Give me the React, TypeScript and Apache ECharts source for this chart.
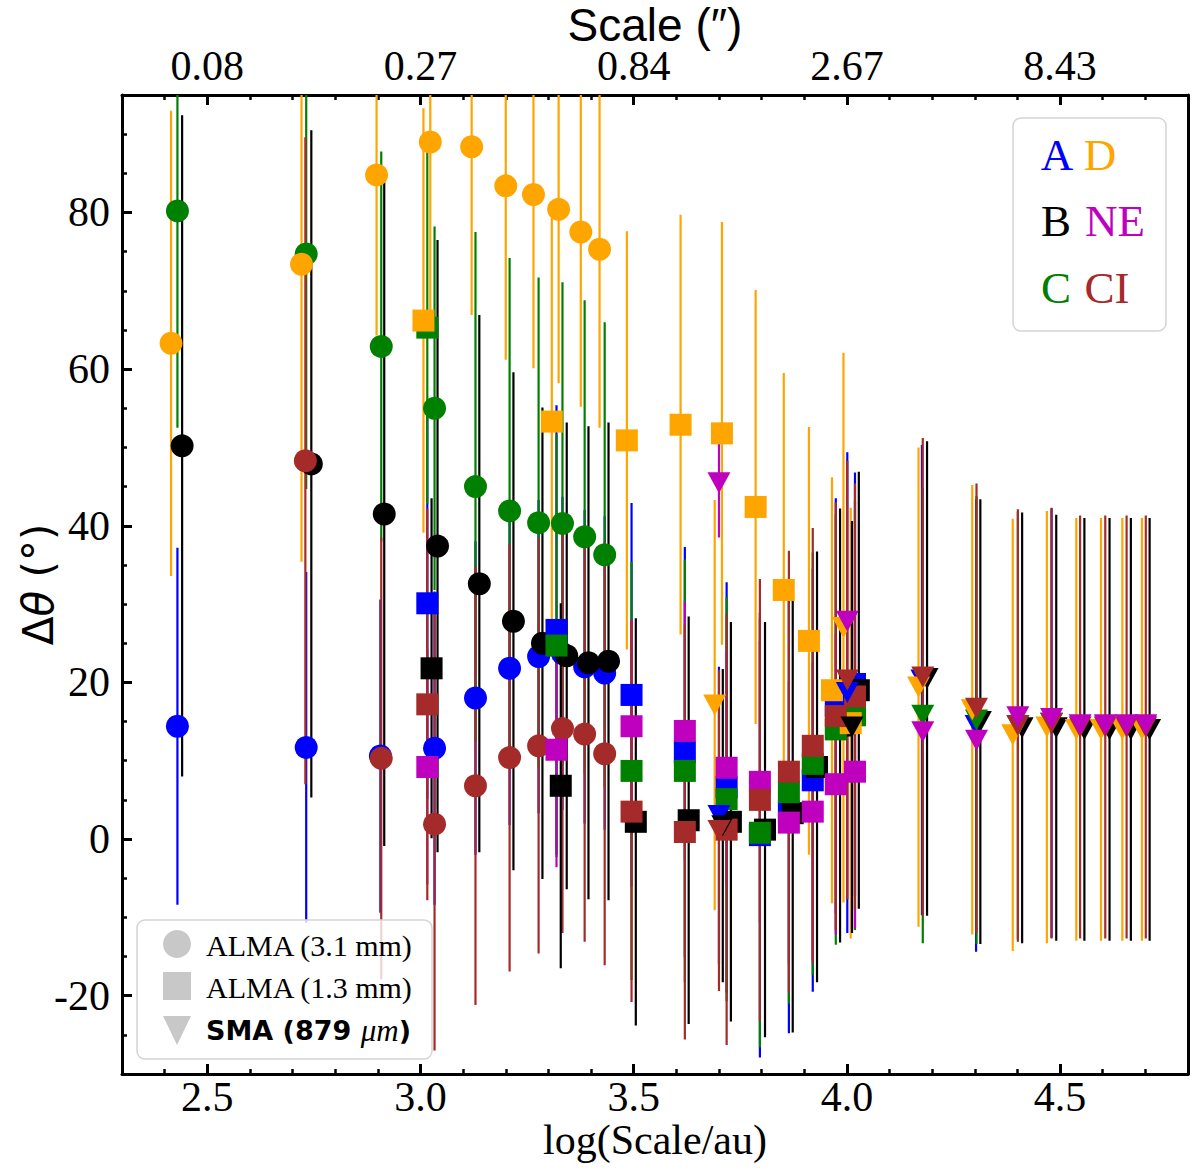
import React, { useEffect, useRef } from "react";
import * as echarts from "echarts";

type Pt = [number, number, number]; // [log(Scale/au), Δθ, error]

// ---- tick labels ----
const X_TICK_VALUES = [2.5, 3.0, 3.5, 4.0, 4.5];
const BOTTOM_TICK_LABELS = ["2.5", "3.0", "3.5", "4.0", "4.5"];
const TOP_TICK_LABELS = ["0.08", "0.27", "0.84", "2.67", "8.43"];
const Y_TICK_VALUES = [-20, 0, 20, 40, 60, 80];
const Y_TICK_LABELS = ["-20", "0", "20", "40", "60", "80"];

// ---- ALMA (3.1 mm) : circles ----
const A_circ: Pt[] = [
  [2.43, 14.4, 22.8], [2.732, 11.7, 22.4], [2.906, 10.6, 20], [3.033, 11.6, 20],
  [3.129, 18.0, 20], [3.209, 21.8, 20], [3.277, 23.3, 20], [3.333, 23.7, 20],
  [3.385, 22.0, 20], [3.432, 21.2, 20],
];
const B_circ: Pt[] = [
  [2.441, 50.2, 42.2], [2.744, 47.9, 42.6], [2.915, 41.5, 42.4], [3.04, 37.4, 39.1],
  [3.138, 32.6, 34.3], [3.218, 27.8, 31.8], [3.286, 25.0, 30.1], [3.343, 23.4, 29.8],
  [3.394, 22.5, 30.2], [3.441, 22.7, 30.5],
];
const C_circ: Pt[] = [
  [2.43, 80.2, 27.7], [2.732, 74.7, 30], [2.908, 62.9, 24.9], [3.033, 55.0, 23.2],
  [3.129, 45.0, 32.5], [3.209, 41.9, 32.3], [3.277, 40.4, 31.3], [3.333, 40.3, 30.8],
  [3.385, 38.6, 30.2], [3.432, 36.3, 29.7],
];
const D_circ: Pt[] = [
  [2.415, 63.3, 29.7], [2.721, 73.4, 38], [2.897, 84.8, 20.5], [3.023, 89.0, 21.7],
  [3.12, 88.4, 21.5], [3.2, 83.4, 22.2], [3.265, 82.3, 22.2], [3.324, 80.4, 22.2],
  [3.376, 77.5, 22.3], [3.42, 75.3, 22.8],
];
const CI_circ: Pt[] = [
  [2.73, 48.3, 41.3], [2.908, 10.3, 28.2], [3.033, 1.9, 28.9], [3.129, 6.8, 28.0],
  [3.209, 10.4, 27.3], [3.277, 11.9, 26.5], [3.333, 14.1, 26.1], [3.385, 13.4, 26.5],
  [3.432, 10.9, 27.0],
];

// ---- ALMA (1.3 mm) : squares ----
const A_sq: Pt[] = [
  [3.016, 30.1, 25], [3.319, 26.7, 28.7], [3.495, 18.4, 24.5], [3.62, 11.1, 26.2],
  [3.718, 6.6, 26.2], [3.796, 0.5, 28.4], [3.864, 3.5, 28.3], [3.92, 7.5, 27],
  [3.974, 17.0, 26.5], [4.019, 19.8, 27],
];
const B_sq: Pt[] = [
  [3.026, 21.8, 21.7], [3.329, 6.8, 23.3], [3.505, 2.2, 26], [3.629, 2.4, 26],
  [3.728, 2.2, 25.5], [3.808, 1.2, 26.5], [3.873, 3.3, 28], [3.93, 9.2, 27.5],
  [3.984, 14.5, 27.7], [4.028, 19.0, 27.9],
];
const C_sq: Pt[] = [
  [3.016, 65.3, 22.5], [3.319, 24.7, 27], [3.495, 8.7, 26.7], [3.62, 8.7, 27],
  [3.718, 5.1, 25.8], [3.796, 0.8, 27.4], [3.864, 6.0, 27], [3.92, 9.6, 27],
  [3.974, 14.0, 27.5], [4.019, 15.8, 27.4],
];
const D_sq: Pt[] = [
  [3.007, 66.2, 27.1], [3.308, 53.3, 26.0], [3.484, 50.9, 26.7], [3.61, 52.9, 26.8],
  [3.707, 51.8, 27.0], [3.786, 42.4, 27.7], [3.852, 31.8, 27.7], [3.911, 25.3, 27.3],
  [3.965, 19.0, 27.2], [4.009, 14.8, 27.5],
];
const NE_sq: Pt[] = [
  [3.016, 9.2, 15], [3.319, 11.4, 15], [3.495, 14.4, 13.6], [3.62, 13.8, 16.5],
  [3.718, 9.1, 15], [3.796, 7.3, 18], [3.864, 2.1, 18], [3.92, 3.5, 19],
  [3.974, 7.0, 19.2], [4.019, 8.6, 20],
];
const CI_sq: Pt[] = [
  [3.016, 17.2, 25], [3.495, 3.5, 24.3], [3.62, 0.9, 26.5], [3.718, 1.2, 27.5],
  [3.796, 5.0, 28.2], [3.864, 8.6, 28.2], [3.92, 11.9, 27.8], [3.974, 15.7, 27.3],
  [4.019, 18.2, 27.2],
];

// ---- SMA (879 μm) : downward triangles ----
const A_tri: Pt[] = [
  [3.7, 3.0, 19], [4.001, 18.7, 30.7], [4.176, 20.3, 30], [4.303, 14.5, 28.9], [4.48, 14.8, 27.4],
];
const B_tri: Pt[] = [
  [3.709, 1.7, 20], [4.012, 14.3, 26.3], [4.188, 20.5, 30.3], [4.313, 15.0, 28.4],
  [4.411, 14.2, 27.5], [4.491, 14.2, 27.2], [4.557, 14.0, 27.0], [4.616, 14.0, 27.0],
  [4.666, 14.0, 27.0], [4.71, 14.0, 27.0],
];
const C_tri: Pt[] = [
  [4.178, 15.8, 29.1], [4.304, 15.2, 28.6], [4.401, 14.5, 27.3],
];
const D_tri: Pt[] = [
  [3.69, 17.1, 26.2], [3.992, 27.0, 35.1], [4.168, 19.4, 30.6], [4.294, 16.5, 28.7],
  [4.389, 13.3, 27.6], [4.469, 14.3, 27.6], [4.538, 14.0, 27.0], [4.596, 14.0, 27.0],
  [4.646, 14.0, 27.0], [4.692, 14.0, 27.0],
];
const NE_tri: Pt[] = [
  [3.7, 45.5, 7], [4.001, 27.8, 0], [4.178, 13.7, 0], [4.304, 12.6, 0], [4.401, 15.6, 0],
  [4.48, 15.4, 0], [4.547, 14.6, 0], [4.606, 14.6, 0], [4.656, 14.6, 0], [4.701, 14.6, 0],
];
const CI_tri: Pt[] = [
  [3.7, 1.1, 20.5], [4.001, 20.3, 28], [4.178, 20.7, 30.5], [4.304, 16.7, 28.7],
  [4.401, 14.5, 27.6], [4.48, 14.8, 27.5], [4.547, 14.3, 27.0], [4.606, 14.3, 27.0],
  [4.656, 14.3, 27.0], [4.701, 14.3, 27.0],
];

const REGION_COLORS: Record<string, string> = {
  A: "#0000ff",
  B: "#000000",
  C: "#008000",
  D: "#ffa500",
  NE: "#bf00bf",
  CI: "#a52a2a",
};

type DatasetDef = {
  symbol: string;
  size: number | number[];
  rotate: number;
  data: Record<string, Pt[]>;
  lineOrder: string[];
  markerOrder: string[];
};

const DATASETS: DatasetDef[] = [
  {
    symbol: "circle", size: 23, rotate: 0,
    data: { A: A_circ, B: B_circ, C: C_circ, D: D_circ, CI: CI_circ },
    lineOrder: ["A", "B", "C", "D", "CI"],
    markerOrder: ["A", "B", "C", "D", "CI"],
  },
  {
    symbol: "rect", size: 22, rotate: 0,
    data: { A: A_sq, B: B_sq, C: C_sq, D: D_sq, NE: NE_sq, CI: CI_sq },
    lineOrder: ["A", "B", "C", "D", "NE", "CI"],
    markerOrder: ["A", "B", "C", "D", "NE", "CI"],
  },
  {
    symbol: "triangle", size: [23, 21], rotate: 180,
    data: { A: A_tri, B: B_tri, C: C_tri, D: D_tri, NE: NE_tri, CI: CI_tri },
    lineOrder: ["A", "B", "C", "D", "NE", "CI"],
    markerOrder: ["A", "B", "C", "D", "CI", "NE"],
  },
];

const SERIF = '"Liberation Serif", "Times New Roman", serif';
const SANS = '"Liberation Sans", Arial, sans-serif';

function labelFor(values: number[], labels: string[]) {
  return (v: number) => {
    const i = values.findIndex((t) => Math.abs(t - v) < 1e-6);
    return i >= 0 ? labels[i] : "";
  };
}

function errSeries(data: Pt[], color: string) {
  return {
    type: "custom",
    coordinateSystem: "cartesian2d",
    xAxisIndex: 0,
    yAxisIndex: 0,
    clip: true,
    silent: true,
    z: 2,
    data,
    encode: { x: 0, y: 1 },
    renderItem: (_params: any, api: any) => {
      const x = api.value(0);
      const y = api.value(1);
      const e = api.value(2);
      if (!e) return null;
      const lo = api.coord([x, y - e]);
      const hi = api.coord([x, y + e]);
      return {
        type: "line",
        shape: { x1: lo[0], y1: lo[1], x2: hi[0], y2: hi[1] },
        style: { stroke: color, lineWidth: 2.2 },
      };
    },
  };
}

function markerSeries(data: Pt[], color: string, ds: DatasetDef) {
  return {
    type: "scatter",
    xAxisIndex: 0,
    yAxisIndex: 0,
    silent: true,
    z: 3,
    symbol: ds.symbol,
    symbolSize: ds.size,
    symbolRotate: ds.rotate,
    itemStyle: { color, opacity: 1 },
    data: data.map((d) => [d[0], d[1]]),
  };
}

function buildOption() {
  const series: any[] = [];
  DATASETS.forEach((ds) => {
    ds.lineOrder.forEach((r) => {
      const d = ds.data[r];
      if (d) series.push(errSeries(d, REGION_COLORS[r]));
    });
  });
  DATASETS.forEach((ds) => {
    ds.markerOrder.forEach((r) => {
      const d = ds.data[r];
      if (d) series.push(markerSeries(d, REGION_COLORS[r], ds));
    });
  });

  const axisLine = { show: true, onZero: false, lineStyle: { color: "#000", width: 3 } };
  const axisTick = { show: true, inside: true, length: 10, lineStyle: { color: "#000", width: 3 } };
  const minorTickX = { show: true, splitNumber: 5, length: 5, lineStyle: { color: "#000", width: 2.5 } };
  const minorTickY = { show: true, splitNumber: 4, length: 5, lineStyle: { color: "#000", width: 2.5 } };

  const legendGray = "#c8c8c8";

  return {
    animation: false,
    backgroundColor: "#fff",
    grid: { left: 122, right: 12, top: 95, bottom: 101, containLabel: false, outerBoundsMode: "none" },
    xAxis: [
      {
        type: "value",
        position: "bottom",
        min: 2.3,
        max: 4.8,
        splitNumber: 5,
        axisLine,
        axisTick,
        minorTick: minorTickX,
        splitLine: { show: false },
        axisLabel: {
          show: true,
          color: "#000",
          fontFamily: SERIF,
          fontSize: 42,
          margin: 2,
          showMinLabel: false,
          showMaxLabel: false,
          formatter: labelFor(X_TICK_VALUES, BOTTOM_TICK_LABELS),
        },
        name: "log(Scale/au)",
        nameLocation: "middle",
        nameGap: 45,
        nameMoveOverlap: false,
        nameTextStyle: { color: "#000", fontFamily: SERIF, fontSize: 42 },
      },
      {
        type: "value",
        position: "top",
        min: 2.3,
        max: 4.8,
        splitNumber: 5,
        axisLine,
        axisTick,
        minorTick: minorTickX,
        splitLine: { show: false },
        axisLabel: {
          show: true,
          color: "#000",
          fontFamily: SERIF,
          fontSize: 42,
          lineHeight: 34,
          margin: 12,
          showMinLabel: false,
          showMaxLabel: false,
          formatter: labelFor(X_TICK_VALUES, TOP_TICK_LABELS),
        },
        name: "Scale (\u2033)",
        nameLocation: "middle",
        nameGap: 50,
        nameMoveOverlap: false,
        nameTextStyle: { color: "#000", fontFamily: SANS, fontSize: 46, lineHeight: 40 },
      },
    ],
    yAxis: [
      {
        type: "value",
        position: "left",
        min: -30,
        max: 95,
        splitNumber: 6,
        axisLine,
        axisTick,
        minorTick: minorTickY,
        splitLine: { show: false },
        axisLabel: {
          show: true,
          color: "#000",
          fontFamily: SERIF,
          fontSize: 42,
          margin: 12,
          showMinLabel: false,
          showMaxLabel: false,
          formatter: labelFor(Y_TICK_VALUES, Y_TICK_LABELS),
        },
        name: "{a|\u0394}{b|\u03b8}{a| (\u00b0)}",
        nameLocation: "middle",
        nameGap: 63,
        nameMoveOverlap: false,
        nameRotate: 90,
        nameTextStyle: {
          color: "#000",
          rich: {
            a: { fontFamily: '"DejaVu Sans", sans-serif', fontSize: 42, color: "#000" },
            b: { fontFamily: '"DejaVu Sans", sans-serif', fontSize: 42, fontStyle: "italic", color: "#000" },
          },
        },
      },
      {
        type: "value",
        position: "right",
        min: -30,
        max: 95,
        splitNumber: 6,
        axisLine,
        axisTick: { show: false },
        axisLabel: { show: false },
        splitLine: { show: false },
      },
    ],
    graphic: {
      elements: [
        // region legend (top right)
        {
          type: "rect", z: 100,
          shape: { x: 1013, y: 118, width: 153, height: 213, r: 8 },
          style: { fill: "rgba(255,255,255,0.8)", stroke: "#d4d4d4", lineWidth: 1.5 },
        },
        ...[
          { t: "A", c: "A", x: 1057, y: 155 },
          { t: "D", c: "D", x: 1100, y: 155 },
          { t: "B", c: "B", x: 1056, y: 221 },
          { t: "NE", c: "NE", x: 1115, y: 221 },
          { t: "C", c: "C", x: 1056, y: 288 },
          { t: "CI", c: "CI", x: 1107, y: 288 },
        ].map((e) => ({
          type: "text", z: 101, x: e.x, y: e.y,
          style: {
            text: e.t, fill: REGION_COLORS[e.c],
            font: `45px ${SERIF}`,
            textAlign: "center", textVerticalAlign: "middle",
          },
        })),
        // instrument legend (bottom left)
        {
          type: "rect", z: 100,
          shape: { x: 137, y: 920, width: 295, height: 139, r: 8 },
          style: { fill: "rgba(255,255,255,0.8)", stroke: "#d4d4d4", lineWidth: 1.5 },
        },
        { type: "circle", z: 101, shape: { cx: 177, cy: 944, r: 14 }, style: { fill: legendGray } },
        { type: "rect", z: 101, shape: { x: 163, y: 972, width: 28, height: 28 }, style: { fill: legendGray } },
        {
          type: "polygon", z: 101,
          shape: { points: [[163, 1016], [191, 1016], [177, 1045]] },
          style: { fill: legendGray },
        },
        {
          type: "text", z: 101, x: 206, y: 945,
          style: { text: "ALMA (3.1 mm)", fill: "#000", font: `30px ${SERIF}`, textAlign: "left", textVerticalAlign: "middle" },
        },
        {
          type: "text", z: 101, x: 206, y: 987,
          style: { text: "ALMA (1.3 mm)", fill: "#000", font: `30px ${SERIF}`, textAlign: "left", textVerticalAlign: "middle" },
        },
        {
          type: "text", z: 101, x: 206, y: 1030,
          style: {
            text: "{a|SMA (879 }{b|\u03bcm}{a|)}",
            textAlign: "left", textVerticalAlign: "middle",
            rich: {
              a: { fontFamily: '"DejaVu Sans", sans-serif', fontWeight: "bold", fontSize: 27, fill: "#000", color: "#000" },
              b: { fontFamily: SERIF, fontStyle: "italic", fontSize: 31, fill: "#000", color: "#000" },
            },
          },
        },
      ],
    },
    series,
  };
}

export default function App() {
  const ref = useRef<HTMLDivElement | null>(null);
  useEffect(() => {
    if (!ref.current) return;
    const chart = echarts.init(ref.current, undefined, { renderer: "svg" });
    chart.setOption(buildOption() as any);
    return () => chart.dispose();
  }, []);
  return (
    <div
      ref={ref}
      style={{ position: "fixed", left: 0, top: 0, width: 1200, height: 1175, background: "#fff" }}
    />
  );
}
